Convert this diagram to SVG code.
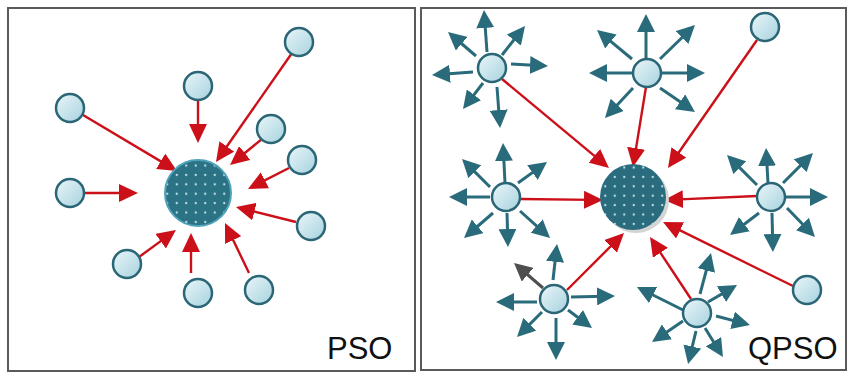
<svg xmlns="http://www.w3.org/2000/svg" width="847" height="373" viewBox="0 0 847 373">
<defs>
<style>
.frame{fill:#fff;stroke:#5a5a5a;stroke-width:2}
.node{fill:url(#ng);stroke:#2a6676;stroke-width:2.5}
.red{stroke:#cc1019;stroke-width:2.4;fill:none;marker-end:url(#rh)}
.teal{stroke:#2a6b7b;stroke-width:3;fill:none;marker-end:url(#th)}
.grey{stroke:#4f4f4f;stroke-width:3;fill:none;marker-end:url(#gh)}
.lbl{font-family:"Liberation Sans",Arial,sans-serif;font-size:31px;fill:#111}
</style>
<linearGradient id="ng" x1="0" y1="0" x2="1" y2="1">
<stop offset="0" stop-color="#eaf6f9"/>
<stop offset="1" stop-color="#a6d2de"/>
</linearGradient>
<pattern id="dots" patternUnits="userSpaceOnUse" x="1" y="1" width="9.5" height="9.4">
<rect width="9.5" height="9.4" fill="#2b7285"/>
<circle cx="4.75" cy="4.7" r="1.1" fill="#c4e3ea"/>
</pattern>
<pattern id="dots2" patternUnits="userSpaceOnUse" x="2" y="3" width="9.5" height="9.4">
<rect width="9.5" height="9.4" fill="#2a6c7e"/>
<circle cx="4.75" cy="4.7" r="1.1" fill="#c4e3ea"/>
</pattern>
<marker id="rh" markerUnits="userSpaceOnUse" markerWidth="19" markerHeight="18" refX="9" refY="9" orient="auto">
<path d="M0,0 L19,9 L0,18 z" fill="#cc1019"/>
</marker>
<marker id="th" markerUnits="userSpaceOnUse" markerWidth="18" markerHeight="18" refX="8" refY="9" orient="auto">
<path d="M0,0 L18,9 L0,18 z" fill="#2a6b7b"/>
</marker>
<marker id="gh" markerUnits="userSpaceOnUse" markerWidth="18" markerHeight="18" refX="8" refY="9" orient="auto">
<path d="M0,0 L18,9 L0,18 z" fill="#4f4f4f"/>
</marker>
</defs>

<g id="panel-pso">
<rect class="frame" x="8" y="8" width="407" height="363"/>
<text class="lbl" x="327" y="359">PSO</text>
</g>
<g id="panel-qpso">
<rect class="frame" x="421" y="8" width="425" height="362"/>
<text class="lbl" x="748" y="359">QPSO</text>
</g>

<g id="connectors">
<path class="red" d="M292,53 L221.7,153.8"/>
<path class="red" d="M198,100 L198,133"/>
<path class="red" d="M83,115 L168.4,165.9"/>
<path class="red" d="M262,139 L237.8,158.7"/>
<path class="red" d="M289,168 L256.9,184.4"/>
<path class="red" d="M85,193 L128,193"/>
<path class="red" d="M296,222 L245.7,209.4"/>
<path class="red" d="M139,257 L167.9,235.9"/>
<path class="red" d="M191,273 L191,243"/>
<path class="red" d="M249,273 L229.3,232"/>

<path class="red" d="M502,79 L601.3,161.6"/>
<path class="red" d="M646,87 L634.6,157.1"/>
<path class="red" d="M757,40 L673.7,159.8"/>
<path class="red" d="M520,199 L593,199.9"/>
<path class="red" d="M757,196 L674,199.6"/>
<path class="red" d="M567,290 L616.9,240.1"/>
<path class="red" d="M691,299 L655.5,245.3"/>
<path class="red" d="M793,286 L672,226.4"/>

<path class="teal" d="M487,52 L484.7,20"/>
<path class="teal" d="M476,56 L455.6,38.5"/>
<path class="teal" d="M502,55 L518.8,33.8"/>
<path class="teal" d="M511,64 L538,65.5"/>
<path class="teal" d="M473,72 L442,74.3"/>
<path class="teal" d="M483,83 L469.1,101.1"/>
<path class="teal" d="M497,87 L499.3,118"/>

<path class="teal" d="M646,58 L646,24"/>
<path class="teal" d="M632,59 L604.7,36.4"/>
<path class="teal" d="M660,59 L687.8,32"/>
<path class="teal" d="M632,73 L599,73"/>
<path class="teal" d="M662,73 L695,73"/>
<path class="teal" d="M633,88 L611.8,110.7"/>
<path class="teal" d="M660,88 L686.7,106.3"/>

<path class="teal" d="M505,183 L503.5,153"/>
<path class="teal" d="M490,187 L469.1,166.1"/>
<path class="teal" d="M518,183 L538.9,167.9"/>
<path class="teal" d="M490,197 L459,197"/>
<path class="teal" d="M493,213 L471.6,231.5"/>
<path class="teal" d="M507,213 L507.7,237"/>
<path class="teal" d="M520,211 L542.6,231.3"/>

<path class="teal" d="M768,183 L766.6,158"/>
<path class="teal" d="M757,185 L734.1,162.1"/>
<path class="teal" d="M783,183 L805.9,160.1"/>
<path class="teal" d="M786,197 L818,197"/>
<path class="teal" d="M759,213 L738,229"/>
<path class="teal" d="M772,213 L772.7,242"/>
<path class="teal" d="M787,208 L808,229.8"/>

<path class="teal" d="M553,280 L555.9,253.9"/>
<path class="grey" d="M543,288 L521.6,269.5"/>
<path class="teal" d="M537,302 L506,302"/>
<path class="teal" d="M571,297 L605,296.2"/>
<path class="teal" d="M542,312 L524.1,329.9"/>
<path class="teal" d="M556,318 L556,350"/>
<path class="teal" d="M568,310 L584,322"/>

<path class="teal" d="M700,294 L708.4,262.7"/>
<path class="teal" d="M683,310 L645.9,291.5"/>
<path class="teal" d="M708,302 L728.4,290.1"/>
<path class="teal" d="M716,316 L740.3,322.4"/>
<path class="teal" d="M683,321 L660.3,336.4"/>
<path class="teal" d="M696,331 L690.4,354.3"/>
<path class="teal" d="M705,328 L717.7,348.5"/>
</g>

<g id="pso-best"><circle cx="198" cy="193" r="33" fill="url(#dots)" stroke="#4ea3b8" stroke-width="2"/></g>
<g id="pso-p1"><circle class="node" cx="299" cy="42" r="14"/></g>
<g id="pso-p2"><circle class="node" cx="198" cy="86" r="14"/></g>
<g id="pso-p3"><circle class="node" cx="70" cy="108" r="14"/></g>
<g id="pso-p4"><circle class="node" cx="271" cy="129" r="14"/></g>
<g id="pso-p5"><circle class="node" cx="302" cy="160" r="14"/></g>
<g id="pso-p6"><circle class="node" cx="70" cy="193" r="14"/></g>
<g id="pso-p7"><circle class="node" cx="311" cy="226" r="14"/></g>
<g id="pso-p8"><circle class="node" cx="127" cy="264" r="14"/></g>
<g id="pso-p9"><circle class="node" cx="198" cy="293" r="14"/></g>
<g id="pso-p10"><circle class="node" cx="259" cy="290" r="14"/></g>

<g id="qpso-best">
<circle cx="636" cy="200" r="33" fill="#d4d4d4"/>
<circle cx="633" cy="197" r="33" fill="url(#dots2)"/>
</g>
<g id="qpso-a"><circle class="node" cx="492" cy="68" r="14"/></g>
<g id="qpso-b"><circle class="node" cx="647" cy="73" r="14"/></g>
<g id="qpso-c"><circle class="node" cx="765" cy="27" r="14"/></g>
<g id="qpso-d"><circle class="node" cx="506" cy="197" r="14"/></g>
<g id="qpso-e"><circle class="node" cx="771" cy="197" r="14"/></g>
<g id="qpso-f"><circle class="node" cx="554" cy="299" r="14"/></g>
<g id="qpso-g"><circle class="node" cx="697" cy="313" r="14"/></g>
<g id="qpso-h"><circle class="node" cx="807" cy="290" r="14"/></g>
</svg>
